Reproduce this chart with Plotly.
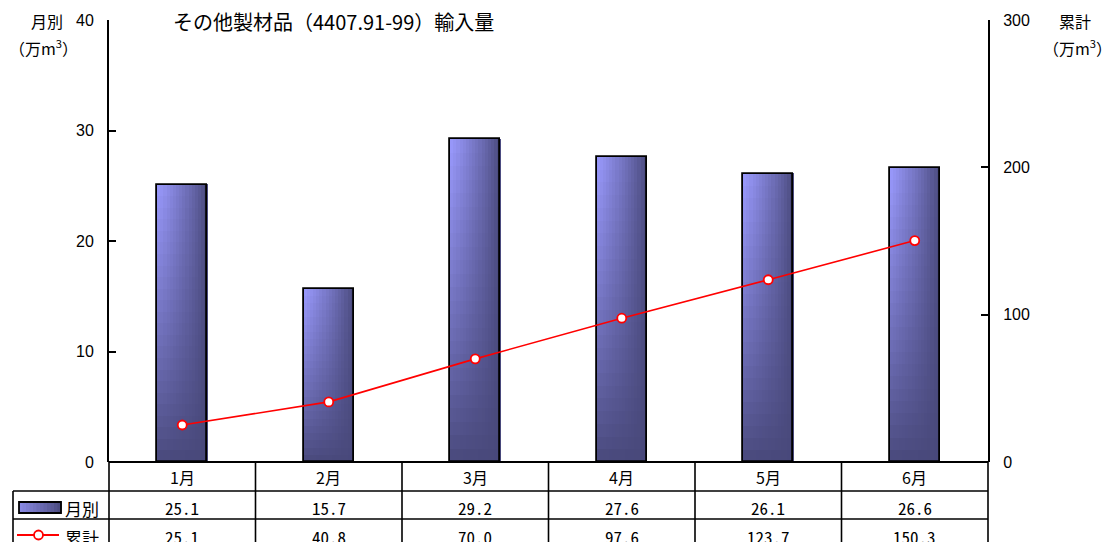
import plotly.graph_objects as go

months = ["1月", "2月", "3月", "4月", "5月", "6月"]
monthly = [25.1, 15.7, 29.2, 27.6, 26.1, 26.6]
cumulative = [25.1, 40.8, 70.0, 97.6, 123.7, 150.3]
monthly_labels = ["25.1", "15.7", "29.2", "27.6", "26.1", "26.6"]
cumulative_labels = ["25.1", "40.8", "70.0", "97.6", "123.7", "150.3"]

title_text = "その他製材品（4407.91-99）輸入量"
left_name = "月別"
right_name = "累計"
unit = "（万m<sup>3</sup>）"

JP = "Noto Sans CJK JP, sans-serif"
MONO = "Noto Sans Mono CJK JP, Noto Sans CJK JP, sans-serif"
NUM = "Liberation Sans, Arial, sans-serif"

LIGHT = (155, 155, 255)
DARK = (72, 72, 122)


def mix(f):
    return "rgb(%d,%d,%d)" % tuple(round(d + f * (l - d)) for l, d in zip(LIGHT, DARK))


BAR_W = 0.343
M = 16  # horizontal slices
N = 24  # vertical segments

fig = go.Figure()

for j in range(M):
    xf = (j + 0.5) / M
    h = (1 - xf) ** 0.85
    xs, bases, ys, cols = [], [], [], []
    for k, v in enumerate(monthly):
        for i in range(N):
            yf = (i + 0.5) / N
            xs.append(months[k])
            bases.append(v * i / N)
            ys.append(v / N * 1.02)
            cols.append(mix(h * yf ** 0.85))
    fig.add_trace(go.Bar(
        x=xs, y=ys, base=bases,
        width=BAR_W / M * 1.08,
        offset=-BAR_W / 2 + j * BAR_W / M,
        marker=dict(color=cols, line=dict(width=0)),
        showlegend=False, hoverinfo="skip",
    ))

# outline
fig.add_trace(go.Bar(
    x=months, y=monthly, width=BAR_W, offset=-BAR_W / 2,
    marker=dict(color="rgba(0,0,0,0)", line=dict(color="black", width=1.8)),
    showlegend=False, name=left_name,
))

fig.add_trace(go.Scatter(
    x=months, y=cumulative, yaxis="y2", mode="lines+markers",
    line=dict(color="#ff0000", width=1.6),
    marker=dict(size=9, color="white", line=dict(color="#ff0000", width=1.8)),
    showlegend=False, name=right_name,
))

L, R, T, B = 109, 122, 20, 80
W, H = 1110, 542
pw = W - L - R
ph = H - T - B


def px(x):
    return (x - L) / pw


def py(y):
    return (H - B - y) / ph


shapes = []
line_style = dict(color="black", width=1.6)
shapes.append(dict(type="line", xref="paper", yref="paper", x0=0, x1=1, y0=0, y1=0,
                   line=dict(color="black", width=2.2)))
rows = [491, 519]
for r in rows:
    shapes.append(dict(type="line", xref="paper", yref="paper", x0=px(13), x1=1,
                       y0=py(r), y1=py(r), line=line_style))
n = len(months)
for k in range(n + 1):
    shapes.append(dict(type="line", xref="paper", yref="paper", x0=k / n, x1=k / n,
                       y0=0, y1=py(560), line=line_style))
shapes.append(dict(type="line", xref="paper", yref="paper", x0=px(13), x1=px(13),
                   y0=py(491), y1=py(560), line=line_style))

# legend swatch (gradient)
sx0, sx1, sy0, sy1 = 19, 61, 502, 513
steps = 12
for s in range(steps):
    a = sx0 + (sx1 - sx0) * s / steps
    b = sx0 + (sx1 - sx0) * (s + 1) / steps + 0.5
    shapes.append(dict(type="rect", xref="paper", yref="paper", x0=px(a), x1=px(b),
                       y0=py(sy1), y1=py(sy0), fillcolor=mix((1 - (s + 0.5) / steps) ** 0.85 * 0.8),
                       line=dict(width=0)))
shapes.append(dict(type="rect", xref="paper", yref="paper", x0=px(sx0), x1=px(sx1),
                   y0=py(sy1), y1=py(sy0), line=dict(color="black", width=1.8)))
# legend line + marker
shapes.append(dict(type="line", xref="paper", yref="paper", x0=px(17), x1=px(59),
                   y0=py(535), y1=py(535), line=dict(color="#ff0000", width=1.8)))
shapes.append(dict(type="circle", xref="paper", yref="paper", x0=px(34), x1=px(43),
                   y0=py(539.5), y1=py(530.5), fillcolor="white",
                   line=dict(color="#ff0000", width=1.8)))


def note(x, y, text, family, size, xref="paper", xanchor="center"):
    return dict(x=x, xref=xref, y=py(y), yref="paper", text=text, showarrow=False,
                xanchor=xanchor, yanchor="middle",
                font=dict(family=family, size=size, color="black"))


ann = []
for k, m in enumerate(months):
    ann.append(note(m, 477, m, JP, 16, xref="x"))
    ann.append(note(m, 507, monthly_labels[k], MONO, 17, xref="x"))
    ann.append(note(m, 536, cumulative_labels[k], MONO, 17, xref="x"))
ann.append(note(px(82), 508, left_name, JP, 17))
ann.append(note(px(82), 537, right_name, JP, 17))
ann.append(note(px(171), 22, title_text, JP, 20, xanchor="left"))
ann.append(note(px(47), 21, left_name, JP, 16))
ann.append(note(px(43), 47, unit, JP, 16))
ann.append(note(px(1075), 21, right_name, JP, 16))
ann.append(note(px(1077), 47, unit, JP, 16))

fig.update_layout(
    width=W, height=H,
    margin=dict(l=L, r=R, t=T, b=B),
    paper_bgcolor="white", plot_bgcolor="white",
    barmode="overlay", bargap=0,
    showlegend=False,
    xaxis=dict(type="category", categoryorder="array", categoryarray=months,
               range=[-0.5, n - 0.5], showticklabels=False, ticks="",
               showline=False, showgrid=False, zeroline=False, fixedrange=True),
    yaxis=dict(range=[0, 40], dtick=10, tick0=0, ticks="inside", ticklen=7,
               tickwidth=1.6, tickcolor="black",
               showline=True, linecolor="black", linewidth=2, showgrid=False,
               zeroline=False, tickfont=dict(family=NUM, size=16, color="black"),
               ticklabelstandoff=10),
    yaxis2=dict(range=[0, 300], dtick=100, tick0=0, overlaying="y", side="right",
                ticks="inside", ticklen=7, tickwidth=1.6, tickcolor="black",
                showline=True, linecolor="black", linewidth=2, showgrid=False,
                zeroline=False, tickfont=dict(family=NUM, size=16, color="black"),
                ticklabelstandoff=10),
    shapes=shapes,
    annotations=ann,
)

fig.write_html("out.html", config={"displayModeBar": False},
               post_script="document.body.style.margin='0';")
